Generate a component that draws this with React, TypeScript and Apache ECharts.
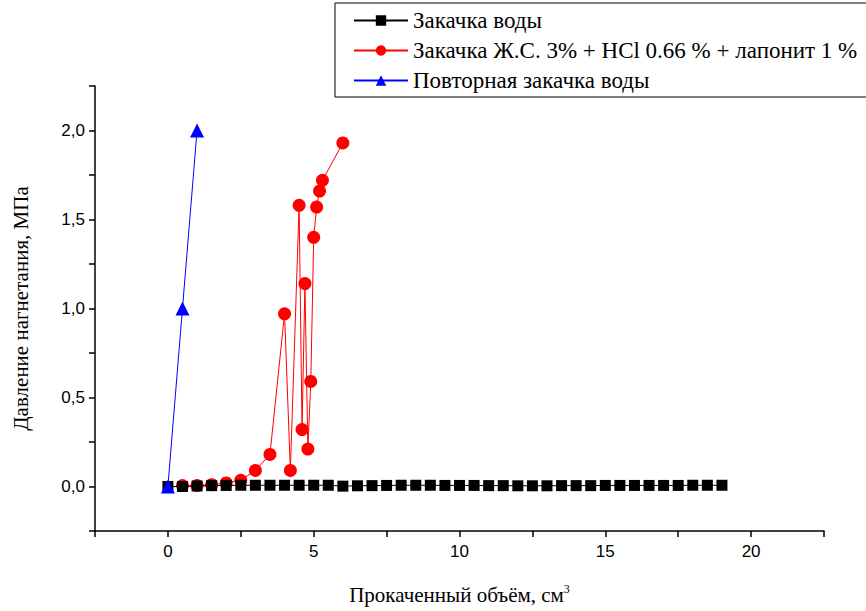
import React, { useEffect, useRef } from "react";
import * as echarts from "echarts";

const waterX = [0, 0.5, 1, 1.5, 2, 2.5, 3, 3.5, 4, 4.5, 5, 5.5, 6, 6.5, 7, 7.5, 8, 8.5, 9, 9.5, 10, 10.5, 11, 11.5, 12, 12.5, 13, 13.5, 14, 14.5, 15, 15.5, 16, 16.5, 17, 17.5, 18, 18.5, 19];
const waterY = [0, 0, 0.003, 0.005, 0.006, 0.007, 0.007, 0.007, 0.007, 0.007, 0.007, 0.007, 0.002, 0.004, 0.005, 0.006, 0.007, 0.007, 0.007, 0.006, 0.006, 0.006, 0.005, 0.005, 0.004, 0.004, 0.004, 0.005, 0.005, 0.005, 0.006, 0.006, 0.006, 0.006, 0.006, 0.006, 0.007, 0.007, 0.007];

const mixX = [0.5, 1, 1.5, 2, 2.5, 3, 3.5, 4, 4.2, 4.5, 4.6, 4.7, 4.8, 4.9, 5.0, 5.1, 5.2, 5.3, 6];
const mixY = [0.005, 0.005, 0.01, 0.02, 0.035, 0.09, 0.18, 0.97, 0.09, 1.58, 0.32, 1.14, 0.21, 0.59, 1.4, 1.57, 1.66, 1.72, 1.93];

const repeatX = [0, 0.5, 1];
const repeatY = [0, 1.0, 2.0];

const seriesNames = [
  "Закачка воды",
  "Закачка Ж.С. 3% + HCl 0.66 % + лапонит 1 %",
  "Повторная закачка воды",
];

const SERIF = "Liberation Serif";
const SANS = "Liberation Sans";

const zip = (xs: number[], ys: number[]) => xs.map((x, i) => [x, ys[i]]);

export default function App() {
  const ref = useRef<HTMLDivElement>(null);
  useEffect(() => {
    if (!ref.current) return;
    const chart = echarts.init(ref.current, null, { renderer: "svg" });
    chart.setOption({
      animation: false,
      backgroundColor: "#fff",
      grid: { left: 95, right: 42, top: 86, bottom: 80, outerBoundsMode: "none", containLabel: false },
      legend: {
        data: seriesNames,
        orient: "vertical",
        left: 335,
        top: 3,
        itemWidth: 54,
        itemHeight: 13,
        itemGap: 7,
        padding: [6, 20, 5, 18],
        borderColor: "#000",
        borderWidth: 1,
        textStyle: { fontFamily: SERIF, fontSize: 23, color: "#000" },
      },
      xAxis: {
        type: "value",
        min: -2.5,
        max: 22.5,
        interval: 2.5,
        name: "Прокаченный объём, см{sup|3}",
        nameLocation: "middle",
        nameGap: 52,
        nameTextStyle: {
          fontFamily: SERIF,
          fontSize: 21,
          color: "#000",
          rich: { sup: { fontFamily: SERIF, fontSize: 12, verticalAlign: "top", padding: [0, 0, 12, 0] } },
        },
        splitLine: { show: false },
        axisLine: { onZero: false, lineStyle: { color: "#000", width: 1.5 } },
        axisTick: { inside: false, length: 6, lineStyle: { color: "#000", width: 1.5 } },
        axisLabel: {
          fontFamily: SANS,
          fontSize: 17,
          color: "#000",
          margin: 12,
          formatter: (v: number) => (Math.abs(v % 5) < 1e-9 ? String(v) : ""),
        },
      },
      yAxis: {
        type: "value",
        min: -0.25,
        max: 2.25,
        interval: 0.25,
        name: "Давление нагнетания, МПа",
        nameLocation: "middle",
        nameGap: 64,
        nameTextStyle: { fontFamily: SERIF, fontSize: 21, color: "#000" },
        splitLine: { show: false },
        axisLine: { onZero: false, lineStyle: { color: "#000", width: 1.5 } },
        axisTick: { inside: false, length: 6, lineStyle: { color: "#000", width: 1.5 } },
        axisLabel: {
          fontFamily: SANS,
          fontSize: 17,
          color: "#000",
          margin: 10,
          formatter: (v: number) =>
            Math.abs(((v % 0.5) + 0.5) % 0.5) < 1e-9 ? v.toFixed(1).replace(".", ",") : "",
        },
      },
      series: [
        {
          name: seriesNames[0],
          type: "line",
          data: zip(waterX, waterY),
          symbol: "rect",
          symbolSize: 11,
          z: 3,
          itemStyle: { color: "#000" },
          lineStyle: { color: "#000", width: 1 },
        },
        {
          name: seriesNames[1],
          type: "line",
          data: zip(mixX, mixY),
          symbol: "circle",
          symbolSize: 13,
          z: 2,
          itemStyle: { color: "#ff0000" },
          lineStyle: { color: "#ff0000", width: 1 },
        },
        {
          name: seriesNames[2],
          type: "line",
          data: zip(repeatX, repeatY),
          symbol: "triangle",
          symbolSize: 14,
          z: 4,
          itemStyle: { color: "#0000ff" },
          lineStyle: { color: "#0000ff", width: 1 },
        },
      ],
    });
    return () => chart.dispose();
  }, []);
  return <div ref={ref} style={{ width: 866, height: 611, position: "absolute", left: 0, top: 0 }} />;
}
